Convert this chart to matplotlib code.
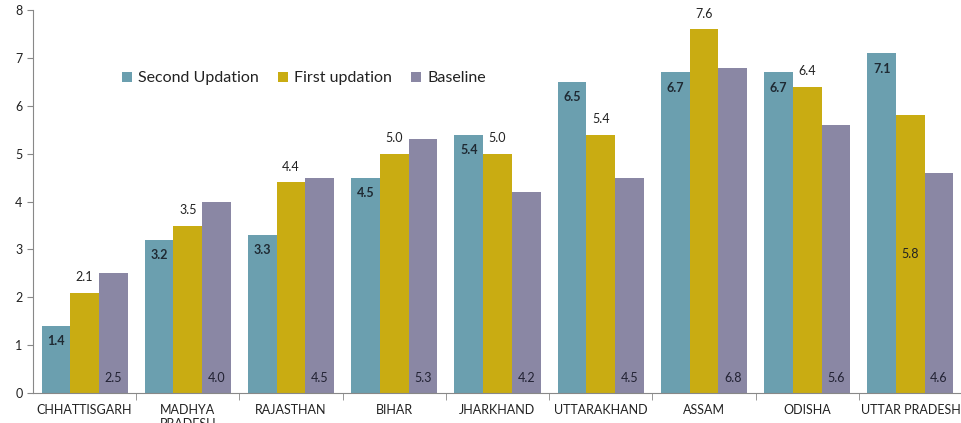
import matplotlib
matplotlib.use("Agg")
import matplotlib.pyplot as plt
import numpy as np

plt.rcParams['font.family'] = ['Lato', 'DejaVu Sans']

states = ["CHHATTISGARH", "MADHYA\nPRADESH", "RAJASTHAN", "BIHAR", "JHARKHAND",
          "UTTARAKHAND", "ASSAM", "ODISHA", "UTTAR PRADESH"]
second_updation = [1.4, 3.2, 3.3, 4.5, 5.4, 6.5, 6.7, 6.7, 7.1]
first_updation = [2.1, 3.5, 4.4, 5.0, 5.0, 5.4, 7.6, 6.4, 5.8]
baseline = [2.5, 4.0, 4.5, 5.3, 4.2, 4.5, 6.8, 5.6, 4.6]

c_second = "#6B9FAF"
c_first = "#C9AC12"
c_base = "#8A87A4"

fig = plt.figure(figsize=(9.62, 4.23), dpi=100)
ax = fig.add_axes([0.0343, 0.0709, 0.9657, 0.905])

x = np.arange(len(states))
w = 0.278

b2 = ax.bar(x - w, second_updation, w, color=c_second, label="Second Updation")
b1 = ax.bar(x, first_updation, w, color=c_first, label="First updation")
b0 = ax.bar(x + w, baseline, w, color=c_base, label="Baseline")

# Second updation: bold label just inside the top of the bar
for rect, v in zip(b2, second_updation):
    ax.annotate(f"{v:.1f}", (rect.get_x() + rect.get_width() / 2, v),
                xytext=(0, -11), textcoords="offset points",
                ha="center", va="center", fontsize=9, fontweight="bold",
                color="#1f2a33")

# First updation: label above the bar (centered for the last state)
for i, (rect, v) in enumerate(zip(b1, first_updation)):
    cx = rect.get_x() + rect.get_width() / 2
    if i == len(states) - 1:
        ax.annotate(f"{v:.1f}", (cx, v / 2), ha="center", va="center",
                    fontsize=9, color="#222222")
    else:
        ax.annotate(f"{v:.1f}", (cx, v), xytext=(0, 11),
                    textcoords="offset points", ha="center", va="center",
                    fontsize=9, color="#222222")

# Baseline: label at the inside base of the bar
for rect, v in zip(b0, baseline):
    ax.annotate(f"{v:.1f}", (rect.get_x() + rect.get_width() / 2, 0),
                xytext=(0, 11), textcoords="offset points",
                ha="center", va="center", fontsize=9, color="#222233")

ax.set_xlim(-0.5, len(states) - 0.5)
ax.set_ylim(0, 8)
ax.set_yticks(range(0, 9))
ax.tick_params(axis="y", labelsize=9, length=4, color="#888888", labelcolor="#222222")

ax.set_xticks(x)
ax.set_xticklabels(states, fontsize=9, color="#222222", va="top")
ax.tick_params(axis="x", length=0, pad=8)
ax.set_xticks(np.arange(0.5, len(states) - 0.5, 1), minor=True)
ax.tick_params(axis="x", which="minor", length=5, color="#888888")

for side in ["top", "right"]:
    ax.spines[side].set_visible(False)
ax.spines["left"].set_color("#888888")
ax.spines["bottom"].set_color("#888888")

leg = ax.legend(loc="center left", bbox_to_anchor=(0.096, 0.822), ncol=3,
                frameon=False, fontsize=11.5, handlelength=0.6, handleheight=0.6,
                handletextpad=0.4, columnspacing=1.2, borderpad=0,
                borderaxespad=0)
for t in leg.get_texts():
    t.set_color("#222222")

fig.savefig("out.png", dpi=100)
